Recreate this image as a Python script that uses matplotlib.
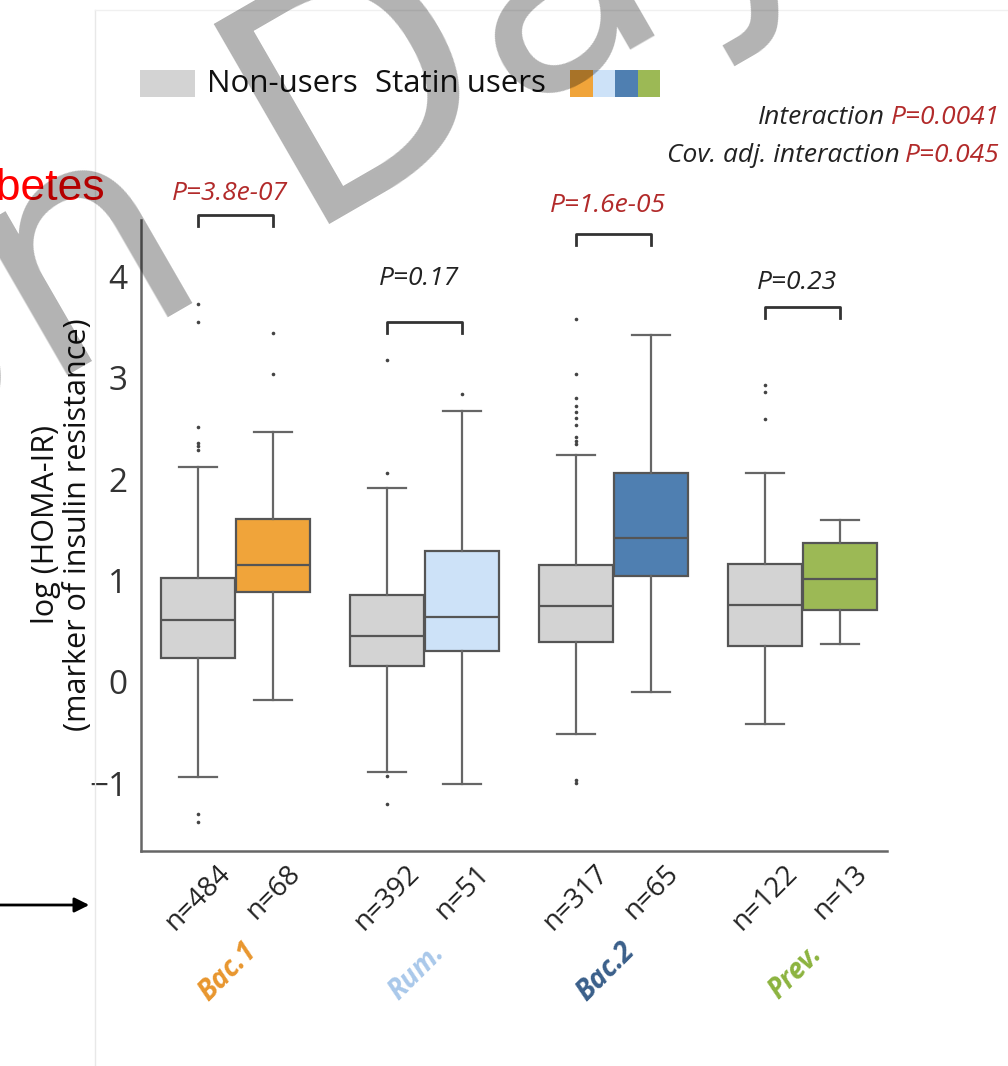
import matplotlib
matplotlib.use("Agg")
import matplotlib.pyplot as plt
import matplotlib.transforms as mtransforms
from matplotlib.patches import Rectangle
from matplotlib.lines import Line2D

# Data
groups = ["Bac.1", "Rum.", "Bac.2", "Prev."]
n_non = [484, 392, 317, 122]
n_statin = [68, 51, 65, 13]

# Non-users boxes
q1_non = [0.24, 0.16, 0.39, 0.35]
med_non = [0.61, 0.455, 0.75, 0.76]
q3_non = [1.03, 0.853, 1.154, 1.162]
whislo_non = [-0.94, -0.89, -0.51, -0.41]
whishi_non = [2.12, 1.91, 2.24, 2.06]
fliers_non = [[-1.30, -1.38, 2.29, 2.33, 2.36, 2.51, 3.55, 3.73],
              [-0.93, -1.20, 2.06, 3.18],
              [-0.97, -1.00, 2.35, 2.38, 2.42, 2.53, 2.60, 2.66, 2.72, 2.80, 3.04, 3.58],
              [2.59, 2.86, 2.93]]

# Statin users boxes
q1_st = [0.89, 0.305, 1.05, 0.71]
med_st = [1.154, 0.643, 1.42, 1.014]
q3_st = [1.609, 1.29, 2.062, 1.366]
whislo_st = [-0.175, -1.008, -0.098, 0.37]
whishi_st = [2.466, 2.67, 3.42, 1.594]
fliers_st = [[3.04, 3.44], [2.84], [], []]

# Pairwise tests
p_labels = ["P=3.8e-07", "P=0.17", "P=1.6e-05", "P=0.23"]
p_signif = [True, False, True, False]
bracket_y = [4.605, 3.55, 4.42, 3.70]
p_text_y = [4.82, 3.98, 4.70, 3.94]

statin_colors = ["#f0a43a", "#cde2f8", "#4f7fb1", "#9cb955"]
label_colors = ["#e8962e", "#a9c8ea", "#3a5f8a", "#8cb33f"]
gray = "#d3d3d3"
edge = "#555555"
red = "#b22a2a"

W, H = 1008, 1066
plt.rcParams["font.family"] = ["Open Sans", "DejaVu Sans"]

fig = plt.figure(figsize=(W / 100, H / 100), dpi=100)
ax = fig.add_axes([141 / W, 1 - 851 / H, (887 - 141) / W, (851 - 220) / H])

# Build box stats
stats = []
positions = []
facecolors = []
for i in range(len(groups)):
    stats.append(dict(med=med_non[i], q1=q1_non[i], q3=q3_non[i],
                      whislo=whislo_non[i], whishi=whishi_non[i], fliers=fliers_non[i]))
    positions.append(i - 0.2)
    facecolors.append(gray)
    stats.append(dict(med=med_st[i], q1=q1_st[i], q3=q3_st[i],
                      whislo=whislo_st[i], whishi=whishi_st[i], fliers=fliers_st[i]))
    positions.append(i + 0.2)
    facecolors.append(statin_colors[i])

bp = ax.bxp(stats, positions=positions, widths=0.39, capwidths=0.2, patch_artist=True,
            boxprops=dict(edgecolor=edge, linewidth=1.6),
            whiskerprops=dict(color="#666666", linewidth=1.6),
            capprops=dict(color="#666666", linewidth=1.6),
            medianprops=dict(color=edge, linewidth=1.6),
            flierprops=dict(marker="o", markersize=2.6, markerfacecolor="#444444",
                            markeredgecolor="none"))
for patch, c in zip(bp["boxes"], facecolors):
    patch.set_facecolor(c)

ax.set_xlim(-0.5, 3.447)
ax.set_ylim(-1.667, 4.556)
ax.set_yticks([-1, 0, 1, 2, 3, 4])
ax.set_yticklabels(["\u22121", "0", "1", "2", "3", "4"])
ax.tick_params(axis="y", length=0, pad=10, labelsize=24, labelcolor="#333333")

xlabels = []
for i in range(len(groups)):
    xlabels += ["n=%d" % n_non[i], "n=%d" % n_statin[i]]
ax.set_xticks(positions)
ax.set_xticklabels(xlabels, rotation=45, ha="center", fontsize=20, color="#222222")
ax.tick_params(axis="x", length=0, pad=6)

for s in ["top", "right"]:
    ax.spines[s].set_visible(False)
for s in ["left", "bottom"]:
    ax.spines[s].set_color("#666666")
    ax.spines[s].set_linewidth(1.8)

# group names under the n labels
trans = mtransforms.blended_transform_factory(ax.transData, ax.transAxes)
for i, g in enumerate(groups):
    ax.text(i - 0.04, -0.192, g, transform=trans, rotation=45, ha="center", va="center",
            fontsize=20, fontweight="bold", fontstyle="italic", color=label_colors[i])

# significance brackets
for i in range(len(groups)):
    y = bracket_y[i]
    ax.plot([i - 0.2, i - 0.2, i + 0.2, i + 0.2], [y - 0.11, y, y, y - 0.11],
            color="#333333", lw=2, clip_on=False)
    ax.text(i - 0.03, p_text_y[i], p_labels[i], ha="center", va="center", fontsize=19,
            fontstyle="italic", color=red if p_signif[i] else "#222222")

# y label
fig.text(62 / W, 1 - 525 / H, "log (HOMA-IR)\n(marker of insulin resistance)", rotation=90,
         ha="center", va="center", fontsize=22, linespacing=1.1, color="#111111")


def px_rect(x0, y0, x1, y1, color):
    fig.add_artist(Rectangle((x0 / W, 1 - y1 / H), (x1 - x0) / W, (y1 - y0) / H,
                             transform=fig.transFigure, facecolor=color, edgecolor="none"))


# legend on top
px_rect(140, 70, 195, 97, gray)
fig.text(207 / W, 1 - 84 / H, "Non-users", ha="left", va="center", fontsize=22.5, color="#111111")
fig.text(375 / W, 1 - 84 / H, "Statin users", ha="left", va="center", fontsize=22.5, color="#111111")
for k, c in enumerate(statin_colors):
    px_rect(570 + 22.5 * k, 70, 570 + 22.5 * (k + 1), 97, c)

# interaction p-values at the top right
fig.canvas.draw()
renderer = fig.canvas.get_renderer()
for ypix, lead, pval in [(118, "Interaction", "P=0.0041"), (155, "Cov. adj. interaction", "P=0.045")]:
    t = fig.text(1000 / W, 1 - ypix / H, pval, ha="right", va="center", fontsize=19,
                 fontstyle="italic", color=red)
    bb = t.get_window_extent(renderer)
    fig.text((bb.x0 - 6) / W, 1 - ypix / H, lead, ha="right", va="center", fontsize=19,
             fontstyle="italic", color="#222222")

# slide bits around the chart
fig.add_artist(Line2D([95 / W, 95 / W], [0, 1 - 10 / H], transform=fig.transFigure,
                      color="#e8e8e8", lw=1))
fig.add_artist(Line2D([95 / W, 1], [1 - 10 / H, 1 - 10 / H], transform=fig.transFigure,
                      color="#f0f0f0", lw=1))
fig.text(105 / W, 1 - 200 / H, "Diabetes", ha="right", va="baseline", fontsize=32,
         family="Liberation Sans", color="#ff0000")
ax.annotate("", xy=(92, H - 905), xytext=(-5, H - 905), xycoords="figure pixels",
            textcoords="figure pixels",
            arrowprops=dict(arrowstyle="-|>", lw=2, color="black", mutation_scale=22))

# watermark
fig.text(-124 / W, 1 - 486 / H, "on Day", rotation=30, rotation_mode="anchor", ha="left",
         va="baseline", fontsize=227, family="DejaVu Sans", color="black", alpha=0.3,
         zorder=50)

fig.savefig("out.png", dpi=100)
